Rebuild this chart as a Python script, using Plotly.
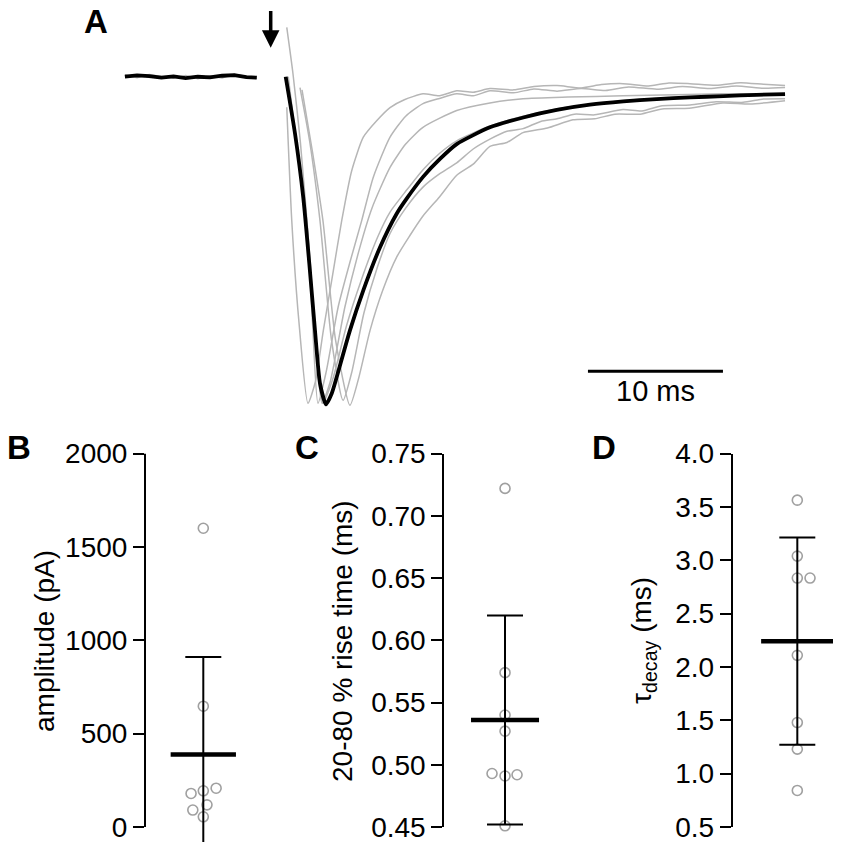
import plotly.graph_objects as go

FONT = "Liberation Sans, Arial, sans-serif"

# ---- panel A: normalised currents (time in ms from stimulus, I / peak) ----
base_t = [-10.8, -9.9, -9.0, -8.1, -7.2, -6.3, -5.4, -4.5, -3.6, -2.7, -1.8, -1.03]
base_i = [0.0, 0.004, 0.002, -0.003, 0.001, -0.004, 0.0, -0.002, 0.003, 0.005, -0.001, -0.003]
base_gray_i = [0.006, -0.003, 0.007, 0.0, -0.005, 0.004, -0.006, 0.003, -0.004, 0.008, 0.002, -0.005]

mean_t = [1.11, 1.80, 2.41, 2.86, 3.28, 3.65, 4.10, 4.52, 4.89, 5.87, 6.86, 8.10, 9.33,
          10.07, 11.30, 12.54, 13.78, 16.24, 18.71, 21.19, 23.65, 26.12, 28.59, 31.06,
          33.53, 36.00, 38.10]
mean_i = [0.0, -0.173, -0.367, -0.569, -0.772, -0.933, -0.997, -0.964, -0.914, -0.772,
          -0.650, -0.519, -0.417, -0.371, -0.304, -0.250, -0.205, -0.154, -0.124, -0.101,
          -0.085, -0.075, -0.068, -0.063, -0.059, -0.055, -0.053]

g1_t = [1.19, 1.56, 2.10, 2.76, 3.30, 3.90, 4.60, 5.26, 6.00, 6.86, 7.85, 8.84, 9.90,
        11.28, 12.50, 13.78, 15.00, 16.24, 18.00, 19.50, 21.21, 23.00, 24.50, 26.10,
        28.00, 29.50, 31.06, 33.00, 34.80, 36.50, 38.10]
g1_i = [-0.093, -0.438, -0.750, -0.994, -0.930, -0.772, -0.600, -0.438, -0.286, -0.184,
        -0.134, -0.094, -0.070, -0.052, -0.058, -0.043, -0.047, -0.036, -0.040, -0.030,
        -0.027, -0.034, -0.024, -0.021, -0.028, -0.019, -0.021, -0.026, -0.018, -0.023,
        -0.027]

g2_t = [1.30, 1.90, 2.67, 3.10, 3.50, 4.10, 5.00, 5.90, 6.74, 7.60, 8.84, 10.00, 11.28,
        12.50, 13.78, 15.00, 16.24, 18.00, 19.50, 21.21, 23.00, 24.80, 26.50, 28.61,
        30.50, 32.50, 34.50, 36.50, 38.10]
g2_i = [0.000, -0.200, -0.438, -0.750, -0.994, -0.900, -0.700, -0.560, -0.438, -0.306,
        -0.184, -0.120, -0.082, -0.066, -0.052, -0.058, -0.043, -0.049, -0.037, -0.044,
        -0.036, -0.042, -0.031, -0.038, -0.030, -0.036, -0.028, -0.035, -0.033]

g3_t = [1.19, 1.65, 2.20, 2.90, 3.40, 3.80, 4.40, 5.50, 6.60, 7.50, 8.84, 10.00, 11.28,
        13.78, 16.24, 18.69, 22.00, 26.10, 30.00, 33.50, 38.10]
g3_i = [0.150, 0.009, -0.200, -0.550, -0.850, -0.994, -0.930, -0.700, -0.520, -0.400,
        -0.276, -0.205, -0.154, -0.103, -0.080, -0.067, -0.062, -0.058, -0.055, -0.052,
        -0.052]

g4_t = [1.25, 1.85, 2.45, 2.95, 3.40, 3.85, 4.60, 5.60, 6.70, 7.90, 8.84, 10.07, 11.30,
        12.54, 13.78, 16.24, 18.71, 21.19, 26.10, 31.06, 38.10]
g4_i = [0.000, -0.190, -0.390, -0.610, -0.820, -0.994, -0.920, -0.760, -0.620, -0.490,
        -0.412, -0.345, -0.282, -0.232, -0.195, -0.150, -0.120, -0.098, -0.073, -0.062,
        -0.055]

g5_t = [2.17, 2.90, 3.65, 4.50, 5.36, 6.00, 6.90, 7.90, 8.84, 10.00, 11.28, 12.50, 13.78,
        15.00, 16.24, 17.50, 18.69, 20.00, 21.21, 22.50, 24.00, 26.10, 27.50, 29.00,
        31.06, 33.00, 35.00, 36.50, 38.10]
g5_i = [-0.033, -0.200, -0.438, -0.800, -0.985, -0.900, -0.720, -0.580, -0.477, -0.400,
        -0.336, -0.296, -0.262, -0.220, -0.190, -0.166, -0.158, -0.136, -0.128, -0.114,
        -0.116, -0.100, -0.104, -0.088, -0.086, -0.076, -0.078, -0.068, -0.067]

g6_t = [2.32, 3.10, 3.87, 4.80, 5.87, 6.50, 7.36, 8.30, 9.33, 10.30, 11.28, 12.50, 13.78,
        15.00, 16.24, 17.50, 18.69, 20.50, 22.39, 24.00, 25.50, 27.36, 29.00, 31.00,
        33.50, 35.50, 38.10]
g6_i = [-0.040, -0.230, -0.438, -0.800, -1.000, -0.920, -0.772, -0.650, -0.549, -0.484,
        -0.424, -0.366, -0.300, -0.266, -0.212, -0.200, -0.170, -0.156, -0.131, -0.128,
        -0.114, -0.114, -0.098, -0.096, -0.080, -0.083, -0.073]

gray_traces = [(g1_t, g1_i), (g2_t, g2_i), (g3_t, g3_i), (g4_t, g4_i), (g5_t, g5_i), (g6_t, g6_i)]

scale_start = 23.5   # ms
scale_len = 10       # ms

# ---- panels B-D: individual cells, mean and SD ----
amp_vals = [1600, 647, 208, 194, 180, 119, 91, 55]
amp_x = [0, 0, 0.22, 0, -0.21, 0.063, -0.18, 0]
amp_mean, amp_sd = 389, 521

rise_vals = [0.722, 0.574, 0.540, 0.527, 0.493, 0.491, 0.492, 0.451]
rise_x = [0, 0, 0, 0, -0.214, 0, 0.198, 0]
rise_mean, rise_sd = 0.536, 0.084

tau_vals = [3.563, 3.039, 2.833, 2.833, 2.109, 1.479, 1.230, 0.843]
tau_x = [0, 0, 0, 0.197, 0, 0, 0, 0]
tau_mean, tau_sd = 2.242, 0.971

amp_ticks = [0, 500, 1000, 1500, 2000]
rise_ticks = [0.45, 0.50, 0.55, 0.60, 0.65, 0.70, 0.75]
tau_ticks = [0.5, 1.0, 1.5, 2.0, 2.5, 3.0, 3.5, 4.0]

# the page places the figure 8px right and ~22px down and the photo squeezes it
# vertically a little, so positions are given in photo pixels and mapped back here
W, H = 841, 850
OX, OY, SY = 8, 22.2, 0.9648


def fx(px):
    return (px - OX) / W


def fy(py):
    return 1 - (py - OY) / SY / H


# panel A scale: 13.5 px per ms, stimulus at x=270.7; 329 px per unit current, baseline at y=76
def t_at(px):
    return (px - 270.7) / 13.5


def i_at(py):
    return (76 - py) / 329


fig = go.Figure()

GRAY = "rgb(182,182,182)"
fig.add_trace(go.Scatter(x=base_t, y=base_gray_i, mode="lines",
                         line=dict(color=GRAY, width=1.4), xaxis="x", yaxis="y"))
for t, i in gray_traces:
    fig.add_trace(go.Scatter(x=t, y=i, mode="lines",
                             line=dict(color=GRAY, width=1.5, shape="spline", smoothing=0.6),
                             xaxis="x", yaxis="y"))
fig.add_trace(go.Scatter(x=base_t, y=base_i, mode="lines",
                         line=dict(color="black", width=3.8), xaxis="x", yaxis="y"))
fig.add_trace(go.Scatter(x=mean_t, y=mean_i, mode="lines",
                         line=dict(color="black", width=3.8, shape="spline", smoothing=0.6),
                         xaxis="x", yaxis="y"))

MEAN_HALF = 0.56
panels = [
    (amp_x, amp_vals, amp_mean, amp_sd, "x2", "y2"),
    (rise_x, rise_vals, rise_mean, rise_sd, "x3", "y3"),
    (tau_x, tau_vals, tau_mean, tau_sd, "x4", "y4"),
]
for xs, vals, m, sd, xa, ya in panels:
    fig.add_trace(go.Scatter(
        x=xs, y=vals, mode="markers", cliponaxis=False,
        marker=dict(symbol="circle-open", size=10, color="rgb(160,160,160)",
                    line=dict(width=1.6, color="rgb(160,160,160)")),
        xaxis=xa, yaxis=ya))
    fig.add_trace(go.Scatter(
        x=[0], y=[m], mode="markers", marker=dict(size=1, opacity=0),
        error_y=dict(type="data", array=[sd], symmetric=True, color="black",
                     thickness=2, width=18),
        xaxis=xa, yaxis=ya))
    fig.add_trace(go.Scatter(
        x=[-MEAN_HALF, MEAN_HALF], y=[m, m], mode="lines",
        line=dict(color="black", width=4.5), xaxis=xa, yaxis=ya))

yax_common = dict(
    showgrid=False, zeroline=False, ticks="outside", ticklen=11, tickwidth=2,
    tickcolor="black", linecolor="black", linewidth=2, ticklabeloverflow="allow",
    tickfont=dict(family=FONT, size=28, color="black"),
)
xax_common = dict(visible=False, range=[-1, 0.65])

fig.update_layout(
    width=W, height=H,
    margin=dict(l=0, r=0, t=0, b=0),
    paper_bgcolor="white", plot_bgcolor="white",
    showlegend=False,
    xaxis=dict(domain=[0, 1], range=[t_at(OX), t_at(OX + W)], visible=False),
    yaxis=dict(domain=[fy(420), 1], range=[i_at(420), i_at(OY)], visible=False),
    xaxis2=dict(domain=[fx(145), fx(241.2)], anchor="y2", **xax_common),
    yaxis2=dict(domain=[0, fy(453.3)], range=[-80, 2000], anchor="x2",
                tickvals=amp_ticks, showline=False, **yax_common),
    xaxis3=dict(domain=[fx(444.3), fx(544.5)], anchor="y3", **xax_common),
    yaxis3=dict(domain=[fy(827.3), fy(453.3)], range=[0.45, 0.75], anchor="x3",
                tickvals=rise_ticks, tickformat=".2f", showline=True, **yax_common),
    xaxis4=dict(domain=[fx(732.7), fx(839.3)], anchor="y4", **xax_common),
    yaxis4=dict(domain=[fy(827.3), fy(453.3)], range=[0.5, 4.0], anchor="x4",
                tickvals=tau_ticks, tickformat=".1f", showline=True, **yax_common),
)

# axis line of panel B stops at 0 while the SD bar runs below it
fig.add_shape(type="line", xref="x2 domain", yref="y2", x0=0, x1=0, y0=0, y1=2000,
              line=dict(color="black", width=2))

# scale bar
fig.add_shape(type="line", xref="x", yref="y", x0=scale_start, x1=scale_start + scale_len,
              y0=i_at(371), y1=i_at(371), line=dict(color="black", width=3))

ann = []
# stimulus arrow
ann.append(dict(xref="x", yref="y", x=0, y=i_at(47), ax=0, ay=-37 / SY, text="",
                showarrow=True, arrowhead=2, arrowsize=1, arrowwidth=3.5,
                arrowcolor="black"))
ann.append(dict(xref="x", yref="y", x=scale_start + scale_len / 2, y=i_at(391),
                text="10 ms", showarrow=False, xanchor="center", yanchor="middle",
                font=dict(family=FONT, size=29, color="black")))

for lab, px, py in [("A", 96, 21), ("B", 19, 447), ("C", 307, 447), ("D", 604, 447)]:
    ann.append(dict(xref="paper", yref="paper", x=fx(px), y=fy(py),
                    text="<b>%s</b>" % lab, showarrow=False,
                    xanchor="center", yanchor="middle",
                    font=dict(family=FONT, size=33, color="black")))

for txt, px, py in [("amplitude (pA)", 45, 641),
                    ("20-80 % rise time (ms)", 343, 641),
                    ("τ<sub>decay</sub> (ms)", 644, 641)]:
    ann.append(dict(xref="paper", yref="paper", x=fx(px), y=fy(py),
                    text=txt, textangle=-90, showarrow=False,
                    xanchor="center", yanchor="middle",
                    font=dict(family=FONT, size=28, color="black")))

fig.update_layout(annotations=ann)

fig.write_html("out.html")
